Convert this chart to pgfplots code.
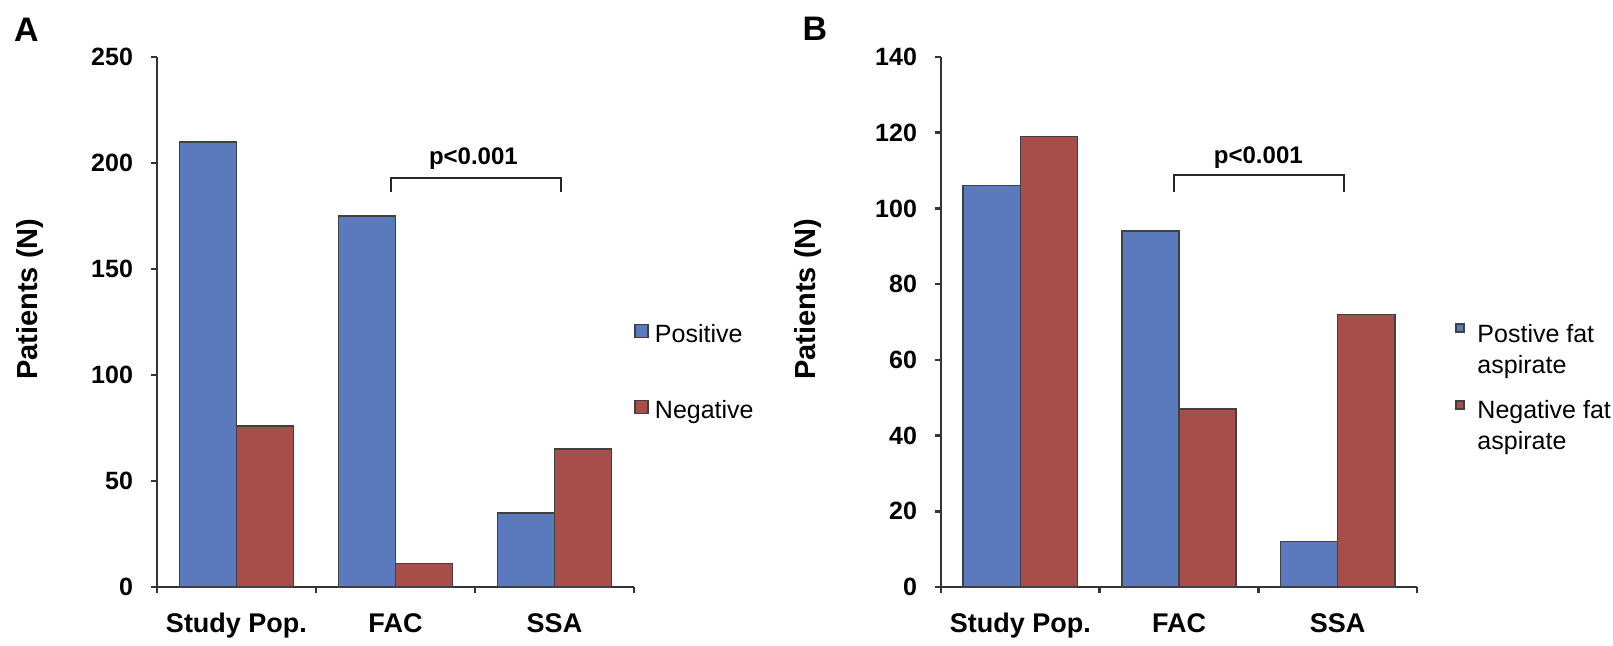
\documentclass[border=0pt]{standalone}
\usepackage{pgfplots}
\pgfplotsset{compat=1.18}
\usepackage{fontspec}
\setmainfont{Liberation Sans}
\definecolor{bblue}{RGB}{91,122,190}
\definecolor{bred}{RGB}{167,78,75}
\pgfplotsset{
  panel/.style={
    scale only axis, height=212pt,
    axis lines*=left,
    axis line style={draw=black!80, line width=1pt},
    xmin=-0.5, xmax=2.5, ymin=0,
    xtick={-0.5,0.5,1.5,2.5}, xticklabels={},
    extra x ticks={0,1,2}, extra x tick labels={Study Pop.,FAC,SSA},
    extra x tick style={major tick length=0pt,
      tick label style={font=\bfseries\fontsize{10.8}{13}\selectfont, yshift=-7pt}},
    tick align=outside, major tick length=2.4pt,
    tick style={draw=black!80, line width=1pt},
    yticklabel style={font=\bfseries\fontsize{10}{12}\selectfont, xshift=-3.7pt},
    /pgf/number format/assume math mode=true,
    ylabel={Patients (N)},
    ylabel style={font=\bfseries\fontsize{11.6}{14}\selectfont, anchor=center},
    ybar, bar width=0.36,
    legend cell align=left,
    legend style={draw=none, fill=none, inner sep=0pt, anchor=north west,
      font=\fontsize{10}{12}\selectfont,
      nodes={inner sep=0pt, text height=7.5pt, text depth=2.5pt}},
  },
  posbar/.style={fill=bblue, draw=black!75, line width=0.6pt, bar shift=-0.18},
  negbar/.style={fill=bred, draw=black!75, line width=0.6pt, bar shift=0.18},
  sqA/.style={legend image code/.code={\draw[##1] (0pt,-0.5pt) rectangle (5.2pt,4.7pt);}},
  sqB/.style={legend image code/.code={\draw[##1] (0pt,1.5pt) rectangle (3.2pt,4.7pt);}},
  sqBtall/.style={legend image code/.code={\path (0pt,10.6pt); \draw[##1] (0pt,1.5pt) rectangle (3.2pt,4.7pt);}},
}
\begin{document}
\begin{tikzpicture}
\useasboundingbox (0,0) rectangle (645.2pt,258pt);
% Panel A
\begin{axis}[panel, at={(62.8pt,23.2pt)}, anchor=south west, width=190.8pt,
  ymax=250, ytick={0,50,...,250},
  ylabel style={at={(axis description cs:-0.266,0.543)}},
  sqA,
  legend style={at={(axis description cs:1.0,0.4976)}, row sep=20.4pt,
    /tikz/every odd column/.append style={column sep=2.4pt}},
  ]
\addplot[posbar] coordinates {(0,210) (1,175) (2,35)};
\addlegendentry{Positive}
\addplot[negbar] coordinates {(0,76) (1,11) (2,65)};
\addlegendentry{Negative}
\draw[line width=0.9pt, black!85] (axis cs:0.97,186.3) |- (axis cs:2.04,193.1) -- (axis cs:2.04,186.3);
\node[font=\bfseries\fontsize{9.6}{11}\selectfont, inner sep=0pt] at (axis cs:1.49,201.9) {p<0.001};
\end{axis}
% Panel B
\begin{axis}[panel, at={(376.4pt,23.2pt)}, anchor=south west, width=190.4pt,
  ymax=140, ytick={0,20,...,140},
  ylabel style={at={(axis description cs:-0.279,0.543)}},
  sqB,
  legend style={at={(axis description cs:1.0798,0.4986)}, row sep=2.4pt,
    /tikz/every odd column/.append style={column sep=5pt}},
  ]
\addplot[posbar] coordinates {(0,106) (1,94) (2,12)};
\addlegendentry{Postive fat}
\addlegendimage{empty legend}
\addlegendentry{aspirate}
\addplot[negbar, sqBtall] coordinates {(0,119) (1,47) (2,72)};
\addlegendentry{Negative fat}
\addlegendimage{empty legend}
\addlegendentry{aspirate}
\draw[line width=0.9pt, black!85] (axis cs:0.97,104.3) |- (axis cs:2.04,108.8) -- (axis cs:2.04,104.3);
\node[font=\bfseries\fontsize{9.6}{11}\selectfont, inner sep=0pt] at (axis cs:1.50,113.3) {p<0.001};
\end{axis}
\node[font=\bfseries\fontsize{13.6}{16}\selectfont, inner sep=0pt] at (10.6pt,246pt) {A};
\node[font=\bfseries\fontsize{13.6}{16}\selectfont, inner sep=0pt] at (326pt,246.4pt) {B};
\end{tikzpicture}
\end{document}
